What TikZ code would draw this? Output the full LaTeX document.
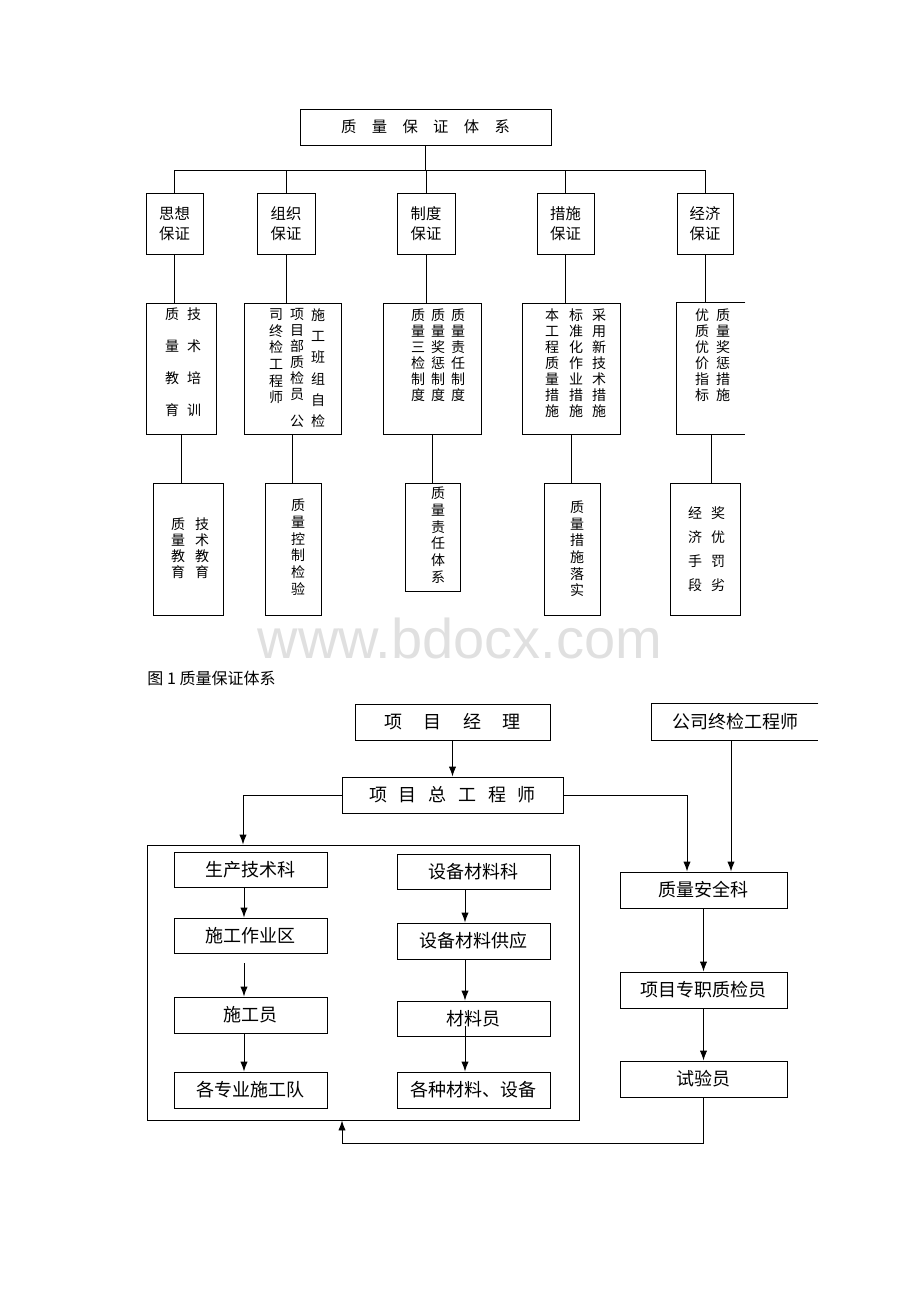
\documentclass[tikz,border=0pt]{standalone}
\usepackage{fontspec}
\setmainfont{Noto Sans CJK SC}
\newfontfamily\wmfont{Liberation Sans}
\usetikzlibrary{arrows.meta}
\def\px{0.75pt}

\begin{document}
\begin{tikzpicture}[x=0.75pt, y=-0.75pt, line width=0.7pt,
		box/.style 2 args={draw, inner sep=0pt, minimum width=#1*\px, minimum height=#2*\px},
		lab/.style={align=center, font=\fontsize{11.5}{15}\selectfont},
		col/.style={inner sep=0pt, anchor=north, align=center, font=\fontsize{10.5}{12}\selectfont},
		big/.style={font=\fontsize{13.5}{16}\selectfont},
		arr/.style={-{Latex[length=7.5pt,width=5.5pt]}}]
		\useasboundingbox (0,0) rectangle (920,1302);

		% 图1
		\node[box={251}{36}, lab] (sys) at (425.5,127) {质\quad 量\quad 保\quad 证\quad 体\quad 系};

		\node[box={57}{61}, lab] (s1) at (174.5,223.5) {思想\\保证};
		\node[box={58}{61}, lab] (s2) at (286,223.5) {组织\\保证};
		\node[box={58}{61}, lab] (s3) at (426,223.5) {制度\\保证};
		\node[box={57}{61}, lab] (s4) at (565.5,223.5) {措施\\保证};
		\node[box={56}{61}, lab] (s5) at (705,223.5) {经济\\保证};

		\coordinate (bus) at (0,170);
		\draw (sys.south) -- (sys.south |- bus);
		\draw (s1.north |- bus) -- (s5.north |- bus);
		\foreach \n in {s1,s2,s3,s4,s5}
			\draw (\n.north) -- (\n.north |- bus);

		\node[box={70}{131}] (t1) at (181,368.5) {};
		\node[box={97}{131}] (t2) at (292.5,368.5) {};
		\node[box={98}{131}] (t3) at (432,368.5) {};
		\node[box={98}{131}] (t4) at (571,368.5) {};
		\node[box={68}{131}, draw=none] (t5) at (711,368.5) {};
		\draw (t5.north east) -- (t5.north west) -- (t5.south west) -- (t5.south east);

		\foreach \a/\b in {s1/t1,s2/t2,s3/t3,s4/t4,s5/t5}
			\draw (\a.south) -- (\a.south |- \b.north);

		\node[col, font=\fontsize{10.5}{24}\selectfont] (t1a) at (172,307) {质\\量\\教\\育};
		\node[col, font=\fontsize{10.5}{24}\selectfont] (t1b) at (194,307) {技\\术\\培\\训};
		\node[col, font=\fontsize{10.5}{12.5}\selectfont] (t2a) at (276,308) {司\\终\\检\\工\\程\\师};
		\node[col] (t2b) at (297,308) {项\\目\\部\\质\\检\\员\\[8pt]公};
		\node[col, font=\fontsize{10.5}{16}\selectfont] (t2c) at (318,308) {施\\工\\班\\组\\自\\检};
		\node[col] (t3a) at (418,308) {质\\量\\三\\检\\制\\度};
		\node[col] (t3b) at (438,308) {质\\量\\奖\\惩\\制\\度};
		\node[col] (t3c) at (458,308) {质\\量\\责\\任\\制\\度};
		\node[col] (t4a) at (552,308) {本\\工\\程\\质\\量\\措\\施};
		\node[col] (t4b) at (576,308) {标\\准\\化\\作\\业\\措\\施};
		\node[col] (t4c) at (599,308) {采\\用\\新\\技\\术\\措\\施};
		\node[col] (t5a) at (702,308) {优\\质\\优\\价\\指\\标};
		\node[col] (t5b) at (723,308) {质\\量\\奖\\惩\\措\\施};

		\node[box={70}{132}] (u1) at (188,549) {};
		\node[box={56}{132}] (u2) at (293,549) {};
		\node[box={55}{108}] (u3) at (432.5,537) {};
		\node[box={56}{132}] (u4) at (572,549) {};
		\node[box={70}{132}] (u5) at (705,549) {};

		\foreach \a/\b in {t1/u1,t2/u2,t3/u3,t4/u4,t5/u5}
			\draw (\a.south) -- (\a.south |- \b.north);

		\node[col, anchor=center] (u1a) at (178,548) {质\\量\\教\\育};
		\node[col, anchor=center] (u1b) at (202,548) {技\\术\\教\\育};
		\node[col, anchor=center, font=\fontsize{10.5}{12.5}\selectfont] (u2a) at (298,547) {质\\量\\控\\制\\检\\验};
		\node[col, anchor=center, font=\fontsize{10.5}{12.5}\selectfont] (u3a) at (438,535) {质\\量\\责\\任\\体\\系};
		\node[col, anchor=center, font=\fontsize{10.5}{12.5}\selectfont] (u4a) at (577,549) {质\\量\\措\\施\\落\\实};
		\node[col, anchor=center, font=\fontsize{10.5}{18}\selectfont] (u5a) at (695,549) {经\\济\\手\\段};
		\node[col, anchor=center, font=\fontsize{10.5}{18}\selectfont] (u5b) at (718,549) {奖\\优\\罚\\劣};

		\node[text=black!12, font=\wmfont\fontsize{42}{42}\selectfont] (wm) at (460,638) {www.bdocx.com};
		\node[anchor=west, inner sep=0pt, font=\fontsize{12}{14}\selectfont] (cap) at (147,678) {图 1 质量保证体系};

		% 质量管理
		\node[box={195}{36}, big] (pm) at (452.5,722) {项\hspace{1.2em}目\hspace{1.2em}经\hspace{1.2em}理};
		\node[box={166}{36}, big, draw=none] (co) at (735,722) {公司终检工程师};
		\draw (co.north east) -- (co.north west) -- (co.south west) -- (co.south east);
		\node[box={221}{36}, big] (ce) at (452.5,795) {项\hspace{0.65em}目\hspace{0.65em}总\hspace{0.65em}工\hspace{0.65em}程\hspace{0.65em}师};

		\node[box={432}{275}] (grp) at (363,982.5) {};
		\node[box={153}{35}, big] (a1) at (250.5,869.5) {生产技术科};
		\node[box={153}{35}, big] (a2) at (250.5,935.5) {施工作业区};
		\node[box={153}{36}, big] (a3) at (250.5,1015) {施工员};
		\node[box={153}{36}, big] (a4) at (250.5,1090) {各专业施工队};
		\node[box={153}{35}, big] (b1) at (473.5,872) {设备材料科};
		\node[box={153}{36}, big] (b2) at (473.5,941) {设备材料供应};
		\node[box={153}{35}, big] (b3) at (473.5,1018.5) {材料员};
		\node[box={153}{36}, big] (b4) at (473.5,1090) {各种材料、设备};

		\node[box={167}{36}, big] (q1) at (703.5,890) {质量安全科};
		\node[box={167}{36}, big] (q2) at (703.5,990) {项目专职质检员};
		\node[box={167}{36}, big] (q3) at (703.5,1079) {试验员};

		\coordinate (lft) at (243,0);
		\coordinate (rgt) at (687,0);
		\coordinate (cx) at (731,0);
		\coordinate (ax) at (244,0);
		\coordinate (bx) at (465,0);
		\coordinate (fb) at (342,1143);

		\draw[arr] (pm.south) -- (ce.north);
		\draw[arr] (ce.west) -| (grp.north -| lft);
		\draw[arr] (ce.east) -| (q1.north -| rgt);
		\draw[arr] (co.south -| cx) -- (q1.north -| cx);

		\draw[arr] (a1.south -| ax) -- (a2.north -| ax);
		\draw[arr] ([yshift=-7.5pt]a2.south -| ax) -- (a3.north -| ax);
		\draw[arr] (a3.south -| ax) -- (a4.north -| ax);
		\draw[arr] (b1.south -| bx) -- (b2.north -| bx);
		\draw[arr] (b2.south -| bx) -- (b3.north -| bx);
		\draw[arr] ([yshift=7.5pt]b3.south -| bx) -- (b4.north -| bx);

		\draw[arr] (q1.south) -- (q2.north);
		\draw[arr] (q2.south) -- (q3.north);
		\draw[arr] (q3.south) |- (fb) -- (grp.south -| fb);
	\end{tikzpicture}
\end{document}
